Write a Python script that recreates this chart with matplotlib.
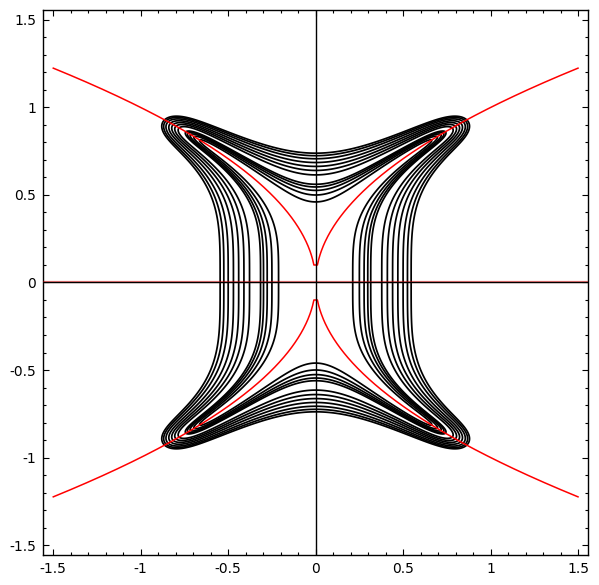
import numpy as np
import matplotlib
matplotlib.use('Agg')
import matplotlib.pyplot as plt
from matplotlib.ticker import MultipleLocator, FixedLocator, FixedFormatter

# half-widths (at y = 0) of the twelve black level curves
level_widths = [0.212, 0.25, 0.277, 0.298, 0.315, 0.378, 0.41, 0.44, 0.47, 0.50, 0.525, 0.546]
# parameters of the closing term (tips of the curves near the red curve)
tip_coef = 7.6e-4
tip_power = 20
# red curve: y = +/- sqrt(|x|) on [-1.5, 1.5]
red_x_max = 1.5
red_x_gap = 0.01
tick_values = [-1.5, -1, -0.5, 0, 0.5, 1, 1.5]
tick_labels = ['-1.5', '-1', '-0.5', '0', '0.5', '1', '1.5']
lim = 1.557

fig = plt.figure(figsize=(5.99, 5.85), dpi=100)
ax = fig.add_axes([0.0723, 0.0513, 0.9816 - 0.0723, 0.9829 - 0.0513])

# black level curves
g = np.linspace(-1.3, 1.3, 1301)
X, Y = np.meshgrid(g, g)
U = X**2 - Y**4
F = U**2 + tip_coef * (X**2 + Y**2) ** (tip_power / 2)
levels = sorted(w**4 for w in level_widths)
ax.contour(X, Y, F, levels=levels, colors='black', linewidths=1.25)

# red curves
xs = np.concatenate([np.linspace(-red_x_max, -red_x_gap, 400), np.linspace(red_x_gap, red_x_max, 400)])
ys = np.sqrt(np.abs(xs))
ax.plot(xs, ys, color='red', lw=1.1, zorder=3)
ax.plot(xs, -ys, color='red', lw=1.1, zorder=3)

# axes lines through the origin
ax.axhline(0, color='red', lw=1.6, alpha=0.5, zorder=3.5)
ax.axhline(0, color='black', lw=1.0, zorder=4)
ax.axvline(0, color='black', lw=1.0, zorder=4)

ax.set_xlim(-lim, lim)
ax.set_ylim(-lim, lim)
for axis in (ax.xaxis, ax.yaxis):
    axis.set_major_locator(FixedLocator(tick_values))
    axis.set_major_formatter(FixedFormatter(tick_labels))
    axis.set_minor_locator(MultipleLocator(0.1))
ax.tick_params(which='both', direction='in', top=True, right=True, labelsize=10, width=0.8)
ax.tick_params(which='major', length=4.5, pad=5)
ax.tick_params(which='minor', length=2.5)
for s in ax.spines.values():
    s.set_linewidth(1.0)

fig.savefig('out.png', dpi=100)
